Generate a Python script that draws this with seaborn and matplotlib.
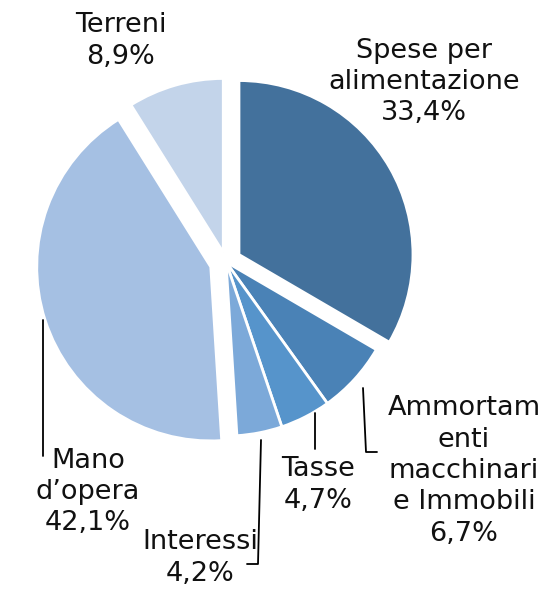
import matplotlib
matplotlib.use("Agg")
import matplotlib.pyplot as plt
import seaborn as sns

# dati del grafico
categorie = ["Spese per\nalimentazione", "Ammortam\nenti\nmacchinari\ne Immobili",
             "Tasse", "Interessi", "Mano\nd\u2019opera", "Terreni"]
percentuali = [33.4, 6.7, 4.7, 4.2, 42.1, 8.9]
colori = ["#43719C", "#4A82B6", "#5694CB", "#7CA9D9", "#A5C0E3", "#C3D4EA"]
esplodi = [0.086, 0, 0, 0, 0.092, 0.057]

sns.set_style("white")
plt.rcParams['font.family'] = ['DejaVu Sans']

W, H = 560, 589
CX, CY, R = 226, 262, 174  # centro e raggio in pixel


def px(x, y):
    # pixel immagine -> coordinate dati
    return (x - CX) / R, (CY - y) / R


fig = plt.figure(figsize=(W / 100, H / 100), dpi=100)
ax = fig.add_axes([0, 0, 1, 1])
ax.pie(percentuali, colors=colori, explode=esplodi, startangle=90,
       counterclock=False, radius=1,
       wedgeprops=dict(edgecolor="white", linewidth=2))
x0, y0 = px(0, H)
x1, y1 = px(W, 0)
ax.set_xlim(x0, x1)
ax.set_ylim(y0, y1)
ax.set_aspect("equal")
ax.axis("off")

# posizioni delle etichette (pixel)
pos_etichette = [(424, 82), (464, 471), (318, 485), (200, 558), (88, 492), (121, 41)]
for cat, val, (lx, ly) in zip(categorie, percentuali, pos_etichette):
    testo = f"{cat}\n{val:.1f}%".replace(".", ",")
    tx, ty = px(lx, ly)
    ax.text(tx, ty, testo, ha="center", va="center", fontsize=19.5,
            linespacing=1.27, color="#111111")

# linee guida
linee = [
    [(363, 388), (366, 452), (377, 452)],
    [(315, 413), (315, 449)],
    [(261, 440), (258, 564), (247, 564)],
    [(43, 320), (43, 456)],
]
for tratto in linee:
    pts = [px(a, b) for a, b in tratto]
    ax.plot([p[0] for p in pts], [p[1] for p in pts], color="black", lw=1.3)

fig.savefig("out.png", dpi=100)
